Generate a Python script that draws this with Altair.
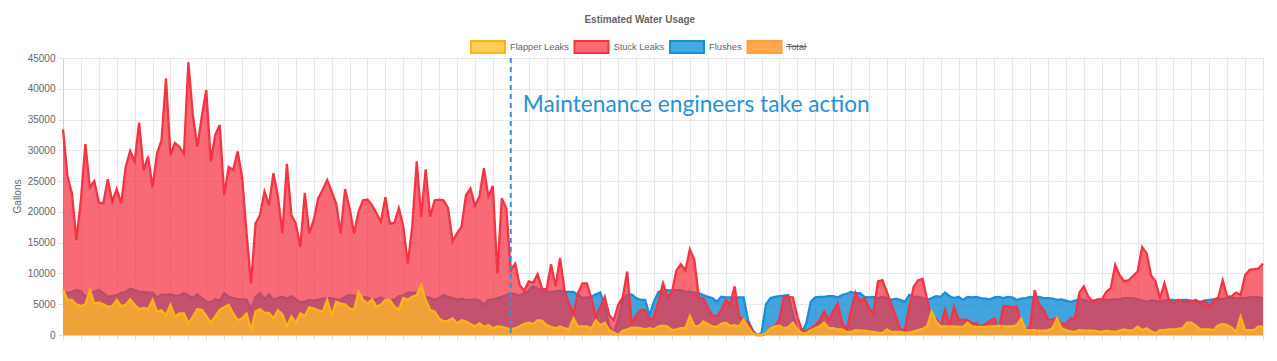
import altair as alt
import pandas as pd

# ---- data (thousands of gallons, one value per day) ----
STUCK = [33.4, 25.8, 23.0, 15.4, 22.0, 31.0, 24.0, 25.0, 21.5, 21.4, 25.3, 21.7, 23.7, 21.4, 27.3, 29.9, 28.2, 34.5,
         26.8, 29.0, 24.0, 29.5, 31.6, 41.7, 29.2, 31.2, 30.6, 29.4, 44.3, 35.7, 30.6, 35.5, 39.8, 28.2, 32.5, 34.1,
         22.7, 27.3, 26.8, 29.8, 25.7, 16.5, 8.4, 18.1, 19.5, 23.3, 21.1, 26.3, 22.5, 16.5, 27.8, 19.5, 18.1, 14.3,
         23.1, 16.5, 18.7, 22.2, 23.6, 25.2, 23.3, 21.4, 16.5, 23.7, 20.6, 16.5, 20.0, 21.9, 22.0, 21.1, 19.8, 18.4,
         22.4, 18.1, 18.2, 20.6, 17.6, 11.6, 17.6, 28.2, 19.2, 26.9, 19.2, 21.9, 22.0, 21.9, 20.6, 15.2, 16.5, 17.6,
         22.7, 23.8, 21.0, 22.5, 27.1, 22.5, 24.2, 10.0, 22.2, 20.6, 10.5, 11.6, 8.1, 7.2, 8.7, 8.5, 9.9, 7.5, 7.4,
         11.5, 7.9, 12.5, 7.3, 5.1, 3.5, 6.8, 8.4, 8.4, 6.0, 3.0, 4.5, 6.2, 3.2, 2.4, 4.9, 6.1, 10.3, 1.9, 3.2, 4.1,
         4.0, 2.4, 3.0, 5.4, 8.4, 6.2, 7.0, 10.5, 11.5, 10.5, 13.9, 12.2, 6.0, 6.0, 4.5, 3.2, 3.0, 4.0, 5.7, 4.9, 7.9,
         3.0, 2.4, 2.0, 0.6, 0.0, 0.0, 0.2, 1.2, 1.4, 2.5, 6.2, 6.2, 6.1, 3.0, 0.8, 0.6, 1.0, 1.6, 2.4, 3.8, 2.4, 3.8,
         5.1, 2.0, 0.8, 4.0, 6.9, 5.4, 6.0, 4.3, 3.6, 8.7, 8.9, 7.0, 4.9, 3.0, 0.9, 0.8, 4.6, 7.9, 8.9, 9.1, 5.7, 2.5,
         2.7, 1.4, 4.1, 1.5, 4.6, 2.4, 2.5, 2.4, 1.9, 1.9, 1.4, 1.8, 2.3, 2.7, 0.9, 4.7, 4.7, 4.5, 4.6, 1.8, 0.8, 1.4,
         7.3, 4.9, 4.1, 2.5, 2.5, 2.7, 1.9, 1.8, 2.7, 2.7, 6.9, 7.9, 6.2, 5.4, 5.8, 5.8, 7.0, 7.6, 11.4, 9.7, 8.7, 8.9,
         9.6, 10.3, 14.3, 13.3, 9.7, 8.7, 6.0, 8.4, 5.7, 5.1, 5.7, 5.4, 5.4, 5.4, 5.7, 5.1, 5.6, 4.6, 5.7, 6.1, 8.9,
         6.2, 6.3, 6.9, 6.5, 9.7, 10.6, 10.7, 10.8, 11.6]

FLUSHES = [6.9, 6.8, 7.0, 7.3, 7.1, 6.2, 6.6, 7.0, 7.3, 6.8, 6.2, 6.3, 6.5, 6.8, 7.0, 7.5, 7.3, 7.0, 7.0, 6.9, 6.9,
           6.1, 6.5, 6.5, 6.6, 6.4, 6.4, 6.8, 6.4, 6.0, 6.6, 6.0, 5.4, 5.3, 5.8, 5.6, 6.8, 6.2, 6.0, 5.8, 5.8, 5.7,
           4.1, 6.2, 6.8, 5.8, 6.6, 5.7, 6.0, 6.2, 5.9, 6.3, 5.8, 5.3, 5.4, 5.7, 5.6, 5.7, 5.9, 6.0, 6.0, 5.8, 5.7,
           6.2, 6.5, 6.4, 6.2, 6.1, 6.1, 5.7, 5.8, 6.1, 5.7, 5.7, 5.7, 6.3, 6.4, 6.9, 6.9, 6.9, 6.9, 6.3, 6.0, 5.7,
           6.0, 6.5, 6.2, 6.0, 5.7, 5.9, 5.7, 5.7, 5.8, 5.6, 4.9, 5.7, 5.8, 6.0, 6.2, 6.5, 6.8, 6.6, 6.4, 6.8, 7.2,
           7.9, 7.5, 7.3, 7.0, 7.0, 7.1, 7.2, 7.0, 7.0, 7.0, 6.5, 6.0, 6.1, 6.2, 6.6, 6.9, 4.6, 1.5, 0.3, 2.5, 5.7,
           6.5, 6.6, 6.0, 5.7, 5.7, 3.2, 5.5, 7.0, 7.2, 7.3, 7.2, 7.3, 7.3, 7.0, 7.0, 6.9, 6.8, 6.5, 6.2, 6.0, 5.4,
           6.2, 6.1, 6.1, 6.1, 6.1, 6.1, 2.4, 0.8, 0.0, 0.3, 5.0, 6.0, 6.2, 6.3, 6.4, 6.5, 3.5, 0.8, 0.5, 1.9, 5.4,
           6.1, 6.2, 6.2, 6.3, 6.3, 6.1, 6.5, 6.7, 7.0, 6.8, 6.8, 6.2, 6.1, 6.2, 6.0, 6.2, 6.0, 5.7, 5.9, 5.7, 5.4,
           6.5, 6.2, 6.2, 6.0, 5.7, 6.0, 6.3, 6.2, 6.9, 6.3, 6.0, 6.2, 5.7, 6.2, 6.1, 6.2, 6.0, 5.9, 5.8, 6.1, 6.2,
           6.0, 6.2, 6.1, 5.7, 5.9, 6.0, 6.2, 6.1, 6.2, 6.0, 6.0, 5.9, 5.7, 5.8, 5.6, 5.4, 5.6, 5.8, 5.7, 5.4, 5.6,
           5.7, 5.7, 5.7, 5.7, 5.8, 5.8, 6.0, 6.0, 6.0, 5.8, 5.6, 5.4, 5.6, 5.5, 5.4, 5.6, 5.7, 5.7, 5.6, 5.7, 5.7,
           5.6, 5.5, 5.4, 5.6, 5.7, 5.8, 5.8, 5.9, 6.0, 6.0, 6.0, 6.0, 6.0, 6.1, 6.2, 6.1, 6.0]

FLAPPER = [7.4, 5.7, 5.7, 5.0, 4.7, 5.0, 7.3, 5.1, 5.3, 5.0, 4.6, 4.7, 5.7, 4.7, 4.9, 5.8, 4.9, 4.2, 4.4, 4.2, 5.7,
           3.8, 4.0, 3.2, 4.9, 3.0, 3.5, 3.5, 1.9, 3.0, 4.2, 4.1, 3.1, 2.0, 3.0, 4.1, 4.5, 4.9, 3.5, 2.4, 2.7, 3.5,
           0.8, 3.8, 4.2, 3.6, 3.6, 2.7, 4.0, 3.4, 1.4, 3.0, 2.0, 3.5, 3.1, 4.5, 4.3, 4.0, 3.8, 5.7, 3.2, 5.4, 5.1,
           5.0, 4.3, 4.1, 7.0, 5.7, 5.1, 5.8, 4.6, 4.9, 5.7, 5.7, 4.6, 4.1, 6.0, 5.7, 6.2, 6.5, 8.1, 5.7, 4.1,
           3.8, 2.7, 2.2, 2.3, 2.7, 1.9, 2.4, 2.2, 1.8, 1.4, 1.9, 1.3, 1.6, 1.1, 1.4, 1.3, 1.1, 0.9,
           1.1, 1.4, 1.8, 2.0, 1.8, 2.4, 2.3, 1.6, 1.3, 1.1, 1.4, 1.1, 0.9, 2.7, 1.4, 1.4, 1.4, 1.1, 2.4, 1.6, 2.0,
           0.8, 0.4, 0.0, 0.7, 0.9, 1.2, 1.2, 1.1, 0.9, 1.1, 0.9, 1.4, 1.5, 1.4, 0.8, 0.9, 1.1, 1.1, 3.1, 1.5, 1.4,
           2.2, 1.8, 1.4, 1.3, 1.8, 2.0, 1.5, 1.6, 1.4, 2.5, 1.3, 0.3, 0.0, 0.0, 0.3, 1.1, 1.4, 1.5, 1.1, 1.3, 2.0,
           0.9, 0.3, 0.3, 0.8, 1.1, 1.4, 2.0, 1.1, 1.1, 0.9, 0.9, 0.5, 0.5,
           0.8, 0.7, 0.7, 0.6, 0.5, 0.4, 0.3, 0.9, 0.5, 0.5, 0.5, 0.4, 0.4, 0.6, 0.8, 1.0, 1.4, 3.8, 2.2, 1.4, 1.4,
           1.4, 1.4, 1.3, 1.3, 2.0, 1.4, 1.3, 1.3, 1.3, 1.4, 1.4, 1.5, 1.4, 1.4, 1.4, 1.6, 2.7, 0.8, 0.8, 0.8, 0.7,
           0.7, 0.8, 1.1, 2.7, 1.1, 0.8, 0.6, 0.5, 0.8, 0.7, 0.7, 0.7, 0.6, 0.5, 0.7, 0.6, 0.5, 0.7, 0.9, 0.7, 0.8,
           1.4, 0.8, 1.1, 0.6, 0.3, 0.8, 0.8, 0.9, 0.9, 1.0, 1.1, 2.0, 2.0, 1.5, 0.9, 0.9, 0.9, 0.8, 1.6, 1.8, 1.6,
           1.2, 0.5, 3.0, 0.8, 0.8, 0.8, 1.4, 1.3]

LEGEND_NAMES = ["Flapper Leaks", "Stuck Leaks", "Flushes", "Total"]
Y_TICKS = [0, 5000, 10000, 15000, 20000, 25000, 30000, 35000, 40000, 45000]
ACTION_DAY = 100
ACTION_TEXT = "Maintenance engineers take action"
TITLE = "Estimated Water Usage"
Y_TITLE = "Gallons"

n = len(STUCK)
rows = []
for name, vals in [("Flushes", FLUSHES), ("Stuck Leaks", STUCK), ("Flapper Leaks", FLAPPER)]:
    for i, v in enumerate(vals):
        rows.append({"day": i, "gallons": v * 1000, "series": name})
df = pd.DataFrame(rows)

FONT = "Liberation Sans"
GRAY = "#666666"

x_enc = alt.X("day:Q", scale=alt.Scale(domain=[0, n - 1], nice=False, zero=False),
              axis=alt.Axis(values=list(range(0, n, 4)), labels=False, title=None, tickSize=5,
                            tickColor="#e0e0e0", gridColor="#e8e8e8", domainColor="#d0d0d0"))
y_enc = alt.Y("gallons:Q", scale=alt.Scale(domain=[0, 45000], nice=False),
              axis=alt.Axis(values=Y_TICKS, format="d", title=Y_TITLE, tickSize=5, labelPadding=3,
                            tickColor="#e0e0e0", gridColor="#e8e8e8", domainColor="#d0d0d0",
                            labelFont=FONT, labelFontSize=10, labelColor=GRAY,
                            titleFont=FONT, titleFontSize=10, titleColor=GRAY, titleFontWeight="normal",
                            titleX=-46, titleY=138, titleAngle=270, titleAlign="center", titleBaseline="middle"))

STYLE = {
    "Flushes": ("#1a8fd6", "#1a8fd6", 0.82),
    "Stuck Leaks": ("#f43343", "#f43343", 0.73),
    "Flapper Leaks": ("#ffbe28", "#f9b516", 0.75),
}

base = alt.Chart(df)
layers = []
for name in ["Flushes", "Stuck Leaks", "Flapper Leaks"]:
    fill, stroke, op = STYLE[name]
    sub = base.transform_filter(alt.datum.series == name)
    layers.append(sub.mark_area(color=fill, fillOpacity=op, interpolate="linear").encode(x=x_enc, y=y_enc))
    layers.append(sub.mark_line(color=stroke, strokeWidth=2.3, interpolate="linear").encode(x=x_enc, y=y_enc))

# legend built from an invisible layer
leg_df = pd.DataFrame({"series": LEGEND_NAMES, "day": [0] * 4, "gallons": [0] * 4})
leg_params = dict(title=None, orient="none", legendX=407, legendY=-29, direction="horizontal",
                  symbolType="M-1,-0.35H1V0.35H-1Z", symbolSize=1156, symbolStrokeWidth=2,
                  labelFont=FONT, labelFontSize=9.3, labelColor=GRAY, labelOffset=4,
                  columnPadding=1.5, padding=0, symbolOpacity=1)
legend_layer = alt.Chart(leg_df).mark_square(size=0, strokeWidth=2).encode(
    x=x_enc, y=y_enc,
    fill=alt.Fill("series:N", scale=alt.Scale(domain=LEGEND_NAMES,
                  range=["#ffcd5c", "#f76a76", "#45a8df", "#ffa84f"]), legend=alt.Legend(**leg_params)),
    stroke=alt.Stroke("series:N", scale=alt.Scale(domain=LEGEND_NAMES,
                      range=["#f9b516", "#f43343", "#1a8fd6", "#ff9f40"]), legend=alt.Legend(**leg_params)),
)

rule = alt.Chart(pd.DataFrame({"day": [ACTION_DAY]})).mark_rule(
    color="#3a8fd6", strokeDash=[5, 4], strokeWidth=2).encode(x=x_enc)
label = alt.Chart(pd.DataFrame({"day": [ACTION_DAY], "gallons": [36200], "t": [ACTION_TEXT]})).mark_text(
    align="left", baseline="alphabetic", dx=12, fontSize=22.7, font="Lato", color="#2591d8").encode(
    x=x_enc, y=y_enc, text="t:N")

strike = alt.Chart(pd.DataFrame({"a": [0]})).mark_rule(color=GRAY, strokeWidth=1).encode(
    x=alt.value(723), x2=alt.value(744), y=alt.value(-11.5))

chart = alt.layer(*layers, rule, label, legend_layer, strike).properties(
    width=1200, height=277,
    padding={"left": 55, "top": 50, "right": 6, "bottom": 18},
    autosize=alt.AutoSizeParams(type="none"),
    title=alt.TitleParams(TITLE, anchor="middle", fontSize=10, fontWeight="bold", color=GRAY,
                          font=FONT, offset=4, frame="bounds"),
).configure_view(stroke=None).configure_axis(gridOpacity=1)

chart.save("out.html", embed_options={"renderer": "svg", "actions": False})
